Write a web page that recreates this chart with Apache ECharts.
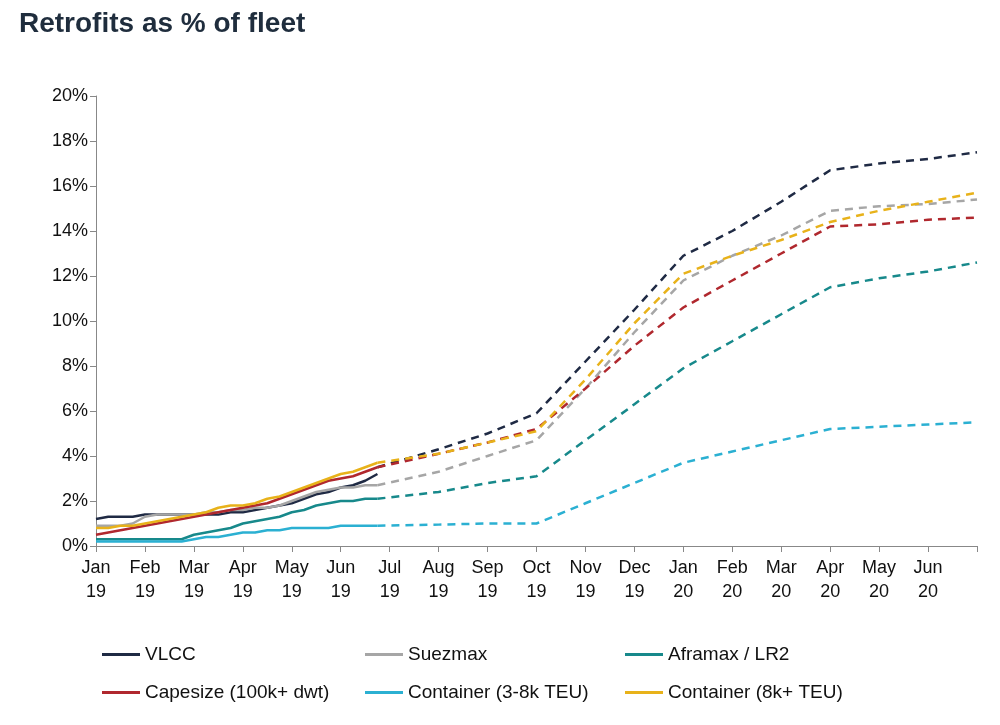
<!DOCTYPE html><html><head><meta charset="utf-8"><script src="https://cdn.jsdelivr.net/npm/echarts@6/dist/echarts.min.js"></script></head><body style="margin:0"><div id="c" style="width:1000px;height:725px"></div><script>
const monthLabels=['Jan\n19','Feb\n19','Mar\n19','Apr\n19','May\n19','Jun\n19','Jul\n19','Aug\n19','Sep\n19','Oct\n19','Nov\n19','Dec\n19','Jan\n20','Feb\n20','Mar\n20','Apr\n20','May\n20','Jun\n20',''];
const names=['VLCC','Suezmax','Aframax / LR2','Capesize (100k+ dwt)','Container (3-8k TEU)','Container (8k+ TEU)'];
const colors=['#1f2a44','#a6a6a6','#17898b','#b0282e','#2bb0d2','#e8b21a'];
const weekX=[0,0.25,0.5,0.75,1,1.25,1.5,1.75,2,2.25,2.5,2.75,3,3.25,3.5,3.75,4,4.25,4.5,4.75,5,5.25,5.5,5.75];
const actual=[
[1.2,1.3,1.3,1.3,1.4,1.4,1.4,1.4,1.4,1.4,1.4,1.5,1.5,1.6,1.7,1.8,1.9,2.1,2.3,2.4,2.6,2.7,2.9,3.2],
[0.9,0.9,0.9,1.0,1.3,1.4,1.4,1.4,1.4,1.5,1.5,1.6,1.6,1.7,1.7,1.8,2.0,2.2,2.4,2.5,2.6,2.6,2.7,2.7],
[0.3,0.3,0.3,0.3,0.3,0.3,0.3,0.3,0.5,0.6,0.7,0.8,1.0,1.1,1.2,1.3,1.5,1.6,1.8,1.9,2.0,2.0,2.1,2.1],
[0.5,0.6,0.7,0.8,0.9,1.0,1.1,1.2,1.3,1.4,1.5,1.6,1.7,1.8,1.9,2.1,2.3,2.5,2.7,2.9,3.0,3.1,3.3,3.5],
[0.2,0.2,0.2,0.2,0.2,0.2,0.2,0.2,0.3,0.4,0.4,0.5,0.6,0.6,0.7,0.7,0.8,0.8,0.8,0.8,0.9,0.9,0.9,0.9],
[0.8,0.8,0.9,0.9,1.0,1.1,1.2,1.3,1.4,1.5,1.7,1.8,1.8,1.9,2.1,2.2,2.4,2.6,2.8,3.0,3.2,3.3,3.5,3.7]];
const fcX=[5.75,7,8,9,10,11,12,13,14,15,16,17,18];
const forecast=[
[3.5,4.3,5.0,5.9,8.2,10.5,12.9,14.0,15.3,16.7,17.0,17.2,17.5],
[2.7,3.3,4.0,4.7,7.0,9.5,11.8,12.9,13.8,14.9,15.1,15.2,15.4],
[2.1,2.4,2.8,3.1,4.7,6.3,7.9,9.1,10.3,11.5,11.9,12.2,12.6],
[3.5,4.1,4.6,5.2,7.0,8.9,10.6,11.8,13.0,14.2,14.3,14.5,14.6],
[0.9,0.95,1.0,1.0,1.9,2.8,3.7,4.2,4.7,5.2,5.3,5.4,5.5],
[3.7,4.1,4.6,5.1,7.4,9.9,12.1,12.9,13.6,14.4,14.9,15.3,15.7]];
const series=[];
names.forEach((n,i)=>{
 series.push({name:n,type:'line',showSymbol:false,lineStyle:{color:colors[i],width:2.5},itemStyle:{color:colors[i]},data:weekX.map((x,j)=>[x,actual[i][j]])});
 series.push({name:n,type:'line',showSymbol:false,lineStyle:{color:colors[i],width:2.5,type:[8,6]},itemStyle:{color:colors[i]},data:fcX.map((x,j)=>[x,forecast[i][j]])});
});
const lx=[97,360,620], ly=[640,678];
const legends=names.map((n,i)=>({data:[n],left:lx[i%3],top:ly[Math.floor(i/3)],icon:'rect',itemWidth:38,itemHeight:3,itemGap:8,textStyle:{fontSize:19,color:'#111',fontFamily:'Liberation Sans'}}));
const ch=echarts.init(document.getElementById('c'));
ch.setOption({animation:false,textStyle:{fontFamily:'Liberation Sans'},
title:{text:'Retrofits as % of fleet',left:14,top:5,textStyle:{fontSize:28,fontWeight:'bold',color:'#1f2d3d',fontFamily:'Liberation Sans'}},
legend:legends,
grid:{left:96,right:23,top:96,bottom:179},
xAxis:{type:'value',min:0,max:18,interval:1,axisLine:{lineStyle:{color:'#888'}},axisTick:{show:true,length:6,lineStyle:{color:'#888'}},splitLine:{show:false},
 axisLabel:{formatter:v=>monthLabels[v]||'',fontSize:18,color:'#111',lineHeight:24,margin:10}},
yAxis:{type:'value',min:0,max:20,interval:2,axisLine:{show:true,lineStyle:{color:'#888'}},axisTick:{show:true,length:6,lineStyle:{color:'#888'}},splitLine:{show:false},
 axisLabel:{formatter:'{value}%',fontSize:18,color:'#111'}},
series});
</script></body></html>
